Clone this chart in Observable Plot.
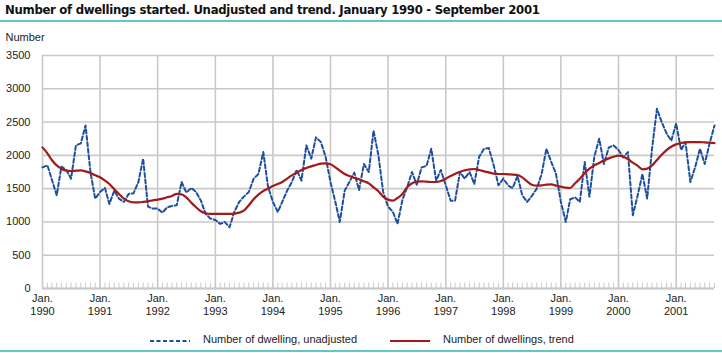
<!DOCTYPE html>
<html>
<head>
<meta charset="utf-8">
<script src="https://cdn.jsdelivr.net/npm/d3@7"></script>
<script src="https://cdn.jsdelivr.net/npm/@observablehq/plot@0.6"></script>
<style>
  html, body { margin: 0; padding: 0; background: #fff; }
  body { width: 722px; height: 353px; overflow: hidden; font-family: "Liberation Sans", Arial, sans-serif; color: #222; }
  #title { height: 20px; border-bottom: 2px solid #63c7c2; font: bold 13px "Liberation Sans Narrow", "DejaVu Sans Condensed", "Arial Narrow", sans-serif; letter-spacing: -0.3px; line-height: 20px; padding-left: 5px; color: #111; white-space: nowrap; }
  #chart { height: 308px; }
  #legend { position: relative; height: 20px; border-bottom: 2px solid #63c7c2; font-size: 11px; color: #222; }
  #legend .sw { position: absolute; top: 9px; }
  #legend .tx { position: absolute; top: 3px; white-space: nowrap; }
</style>
</head>
<body>
<div id="title">Number of dwellings started. Unadjusted and trend. January 1990 - September 2001</div>
<div id="chart"></div>
<div id="legend"></div>
<script>
// Monthly series, January 1990 – September 2001
const startYear = 1990;
const unadjusted = [
  1820, 1850, 1640, 1400, 1830, 1780, 1650, 2150, 2180, 2450, 1750, 1350, // 1990
  1450, 1510, 1270, 1470, 1350, 1300, 1420, 1430, 1600, 1950, 1230, 1200, // 1991
  1200, 1140, 1220, 1240, 1250, 1600, 1440, 1510, 1450, 1320, 1120, 1050, // 1992
  1030,  970, 1000,  920, 1150, 1300, 1380, 1450, 1650, 1720, 2050, 1530, // 1993
  1300, 1150, 1300, 1470, 1600, 1780, 1620, 2150, 1950, 2270, 2200, 1980, // 1994
  1600, 1300, 1000, 1470, 1600, 1740, 1480, 1870, 1750, 2370, 2000, 1450, // 1995
  1230, 1150,  970, 1330, 1520, 1750, 1560, 1820, 1840, 2100, 1620, 1780, // 1996
  1550, 1320, 1320, 1750, 1650, 1750, 1570, 1980, 2100, 2110, 1850, 1550, // 1997
  1650, 1545, 1510, 1690, 1400, 1300, 1390, 1500, 1720, 2100, 1900, 1720, // 1998
  1300, 1000, 1340, 1370, 1300, 1900, 1380, 1980, 2250, 1870, 2120, 2150, // 1999
  2080, 1970, 2050, 1100, 1390, 1720, 1350, 2100, 2700, 2500, 2330, 2220, // 2000
  2480, 2080, 2200, 1600, 1820, 2100, 1870, 2180, 2450                    // 2001
];
const trend = [
  2120, 2030, 1930, 1850, 1800, 1770, 1765, 1770, 1775, 1760, 1735, 1700, // 1990
  1670, 1620, 1570, 1490, 1420, 1350, 1310, 1295, 1295, 1300, 1310, 1325, // 1991
  1335, 1350, 1370, 1390, 1420, 1415, 1370, 1290, 1220, 1160, 1130, 1120, // 1992
  1120, 1120, 1120, 1120, 1125, 1140, 1170, 1250, 1340, 1410, 1465, 1500, // 1993
  1540, 1570, 1600, 1650, 1700, 1740, 1780, 1810, 1835, 1855, 1875, 1880, // 1994
  1865, 1820, 1770, 1720, 1690, 1660, 1640, 1610, 1580, 1520, 1460, 1380, // 1995
  1335, 1320, 1360, 1420, 1520, 1580, 1605, 1610, 1605, 1600, 1600, 1615, // 1996
  1650, 1690, 1720, 1755, 1775, 1790, 1795, 1780, 1760, 1745, 1725, 1720, // 1997
  1720, 1715, 1712, 1705, 1670, 1610, 1560, 1545, 1550, 1560, 1565, 1545, // 1998
  1530, 1515, 1510, 1580, 1650, 1730, 1800, 1850, 1885, 1925, 1955, 1980, // 1999
  1995, 1980, 1945, 1890, 1845, 1790, 1800, 1850, 1930, 2010, 2080, 2130, // 2000
  2165, 2185, 2195, 2200, 2200, 2200, 2195, 2190, 2185                    // 2001
];
const yearLabels = ["1990","1991","1992","1993","1994","1995","1996","1997","1998","1999","2000","2001"];
const yTicks = [0, 500, 1000, 1500, 2000, 2500, 3000, 3500];
const seriesNames = ["Number of dwelling, unadjusted", "Number of dwellings, trend"];

const blue = "#1d4f9e";
const red = "#a31a1a";
const grid = "#c9c9c9";

const monthDate = i => new Date(Date.UTC(startYear, i, 1));
const unadjData = unadjusted.map((v, i) => ({date: monthDate(i), value: v}));
const trendData = trend.map((v, i) => ({date: monthDate(i), value: v}));
const months = unadjusted.map((v, i) => monthDate(i));
const janDates = yearLabels.map(y => new Date(Date.UTC(+y, 0, 1)));

const chart = Plot.plot({
  width: 722,
  height: 308,
  marginLeft: 42,
  marginRight: 8,
  marginTop: 33,
  marginBottom: 42,
  style: {fontFamily: "'Liberation Sans', Arial, sans-serif", fontSize: "11px", color: "#222", background: "#fff"},
  x: {type: "utc", domain: [monthDate(0), monthDate(unadjusted.length - 1)]},
  y: {domain: [0, 3500]},
  marks: [
    Plot.ruleY(yTicks, {stroke: grid, strokeWidth: 1.6, x1: monthDate(0), x2: monthDate(unadjusted.length - 1)}),
    Plot.ruleX(janDates, {stroke: grid, strokeWidth: 1.6, y1: 0, y2: 3500}),
    Plot.ruleX(months, {stroke: grid, strokeWidth: 1, y1: 0, y2: 80}),
    Plot.ruleY([0], {stroke: grid, strokeWidth: 2, x1: monthDate(0), x2: monthDate(unadjusted.length - 1)}),
    Plot.axisY(yTicks, {tickSize: 0, tickPadding: 12, label: null, fontSize: 11, fill: "#222", tickFormat: d => String(d)}),
    Plot.axisX(janDates, {tickSize: 0, tickPadding: 4, label: null, fontSize: 11, fill: "#222", lineHeight: 1.18,
      tickFormat: d => "Jan.\n" + d.getUTCFullYear()}),
    Plot.text(["Number"], {frameAnchor: "top-left", dx: -37, dy: -22, textAnchor: "start", fontSize: 11, fill: "#222"}),
    Plot.line(unadjData, {x: "date", y: "value", stroke: blue, strokeWidth: 2, strokeDasharray: "4,2.5"}),
    Plot.line(trendData, {x: "date", y: "value", stroke: red, strokeWidth: 2.2, curve: "monotone-x"})
  ]
});
document.getElementById("chart").appendChild(chart);

// Legend
const legend = document.getElementById("legend");
legend.innerHTML =
  `<svg class="sw" style="left:150px" width="40" height="4"><line x1="0" y1="2" x2="40" y2="2" stroke="${blue}" stroke-width="2" stroke-dasharray="4,2.5"/></svg>` +
  `<span class="tx" style="left:203px">${seriesNames[0]}</span>` +
  `<svg class="sw" style="left:390px" width="40" height="4"><line x1="0" y1="2" x2="40" y2="2" stroke="${red}" stroke-width="2.2"/></svg>` +
  `<span class="tx" style="left:443px">${seriesNames[1]}</span>`;
</script>
</body>
</html>
